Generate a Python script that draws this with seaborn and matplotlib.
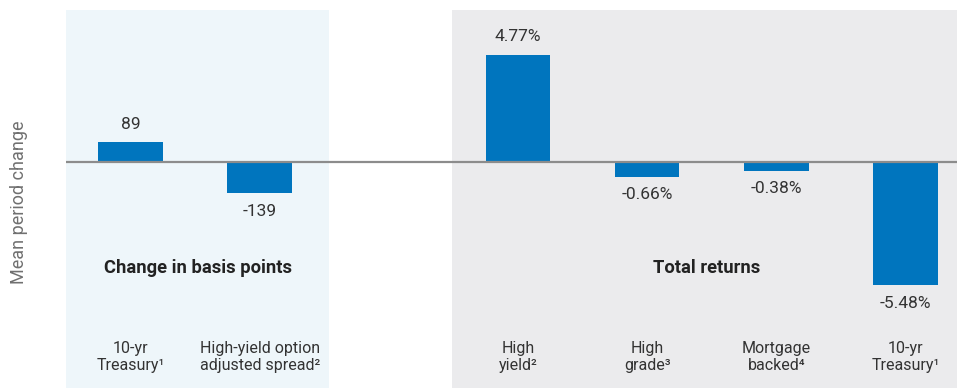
import matplotlib
matplotlib.use("Agg")
import matplotlib.pyplot as plt
import matplotlib.transforms as mtransforms
import seaborn as sns
import pandas as pd

# ---- data ----
bp_categories = ["10-yr\nTreasury¹", "High-yield option\nadjusted spread²"]
bp_values = [89, -139]
bp_labels = ["89", "-139"]

ret_categories = ["High\nyield²", "High\ngrade³", "Mortgage\nbacked⁴", "10-yr\nTreasury¹"]
ret_values = [4.77, -0.66, -0.38, -5.48]  # percent
ret_labels = ["4.77%", "-0.66%", "-0.38%", "-5.48%"]

group_titles = ["Change in basis points", "Total returns"]
y_label = "Mean period change"

# ---- build table (percent shown on same visual scale: 1% = 100 bp) ----
gap = 1
rows = []
for i, (c, v, l) in enumerate(zip(bp_categories, bp_values, bp_labels)):
    rows.append(dict(pos=i, category=c, val=v, lab=l))
off = len(bp_categories) + gap
for i, (c, v, l) in enumerate(zip(ret_categories, ret_values, ret_labels)):
    rows.append(dict(pos=off + i, category=c, val=v * 100, lab=l))
df = pd.DataFrame(rows)

sns.set_theme(style="white")
plt.rcParams["font.family"] = ["Roboto", "DejaVu Sans"]

fig = plt.figure(figsize=(9.57, 3.88), dpi=100)
ax = fig.add_axes([66 / 957, 0, 1 - 66 / 957, 1 - 10 / 388])

bar_color = "#0075BE"
text_color = "#333333"

px_per = 0.2245
ymax = (162 - 10) / px_per
ymin = -(388 - 162) / px_per
xmin = -0.5
xmax = 6.40

ax.axvspan(-0.5, 1.54, color="#EEF6FA", zorder=0, lw=0)
ax.axvspan(2.49, xmax + 1, color="#EBEBED", zorder=0, lw=0)

sns.barplot(data=df, x="pos", y="val", native_scale=True, width=0.5,
            color=bar_color, saturation=1, ax=ax, zorder=2, edgecolor="none")
ax.set_xlim(xmin, xmax)
ax.set_ylim(ymin, ymax)

ax.axhline(0, color="#8C8C8C", lw=1.6, zorder=3)

for r in df.itertuples():
    dy = 18 / px_per
    y = r.val + dy if r.val >= 0 else r.val - dy
    ax.text(r.pos, y, r.lab, ha="center", va="center", fontsize=12.5, color=text_color)

trans = mtransforms.blended_transform_factory(ax.transData, ax.transAxes)
for r in df.itertuples():
    ax.text(r.pos, (388 - 357) / 378, r.category, ha="center", va="center",
            fontsize=11.5, color=text_color, transform=trans, linespacing=1.2)

ax.text((-0.5 + 1.54) / 2, (388 - 268) / 378, group_titles[0], ha="center", va="center",
        fontsize=13.2, fontweight="bold", color="#222222", transform=trans)
ax.text(off + 1.5 - 0.04, (388 - 268) / 378, group_titles[1], ha="center", va="center",
        fontsize=13.2, fontweight="bold", color="#222222", transform=trans)

fig.text(19 / 957, 1 - 202 / 388, y_label, rotation=90, ha="center", va="center",
         fontsize=13, color="#707070")

ax.set_xlabel("")
ax.set_ylabel("")
ax.set_xticks([])
ax.set_yticks([])
for s in ax.spines.values():
    s.set_visible(False)
ax.patch.set_alpha(0)

fig.savefig("out.png", dpi=100)
